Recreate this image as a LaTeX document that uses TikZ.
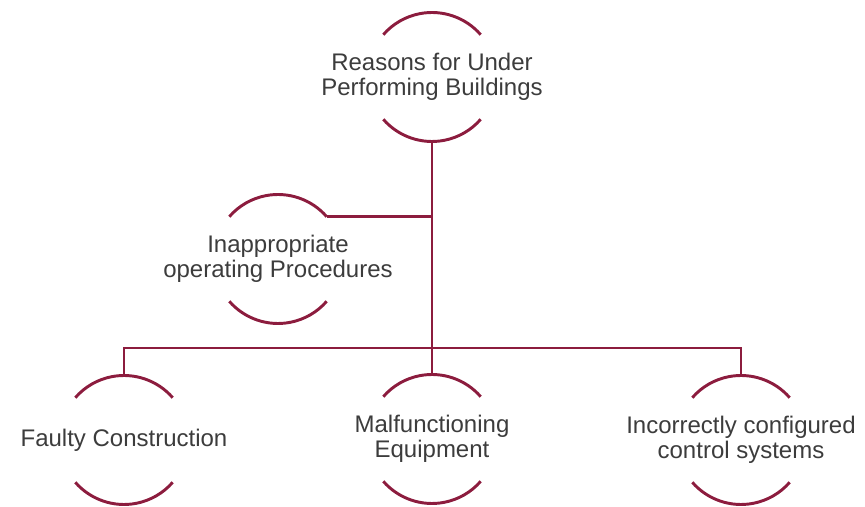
\documentclass[tikz,border=0pt]{standalone}
\usepackage{fontspec}
\setmainfont{Liberation Sans}
\usepackage{tikz}
\usetikzlibrary{positioning}

\definecolor{wine}{RGB}{140,28,62}
\definecolor{textgray}{RGB}{60,60,60}

\tikzset{
  reason/.style={inner sep=0pt, align=center, text=textgray,
    font=\fontsize{18}{18.75}\selectfont},
  link/.style={draw=wine, line width=2.2pt}
}

\begin{document}
\begin{tikzpicture}[x=0.75pt,y=0.75pt]

 \useasboundingbox (0,0) rectangle (865,507);

 % Main reason on top
 \node [reason] (top) at (432,430) {Reasons for Under\\Performing Buildings};

 % Side reason
 \node [reason] (proc) at (278,248) {Inappropriate\\operating Procedures};

 % Reasons at the bottom
 \node [reason] (faulty) at (124,67) {Faulty Construction};
 \node [reason] (malf) at (432,68) {Malfunctioning\\Equipment};
 \node [reason] (ctrl) at (741,67) {Incorrectly configured\\control systems};

 % Arcs above and below each text
 \foreach \n in {top,proc,faulty,malf,ctrl} {
   \path (\n.center) ++(90:48.375pt) coordinate (\n-up)
         (\n.center) ++(270:48.375pt) coordinate (\n-down)
         (\n.center) ++(41:48.375pt) coordinate (\n-ne);
   \draw [link] (\n.center) ++(41:48.375pt) arc[start angle=41, end angle=139, radius=48.375pt];
   \draw [link] (\n.center) ++(221:48.375pt) arc[start angle=221, end angle=319, radius=48.375pt];
 }

 % Trunk and branches
 \coordinate (bus) at (432,159);
 \draw [link] (top-down) -- (malf-up);
 \draw [link] (proc-ne) -- (proc-ne -| top-down);
 \draw [link] (faulty-up) -- (faulty-up |- bus) -- (ctrl-up |- bus) -- (ctrl-up);

\end{tikzpicture}
\end{document}
